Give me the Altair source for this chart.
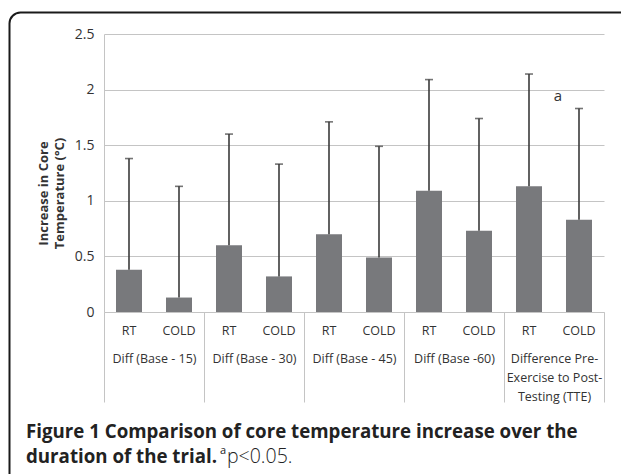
import altair as alt
import pandas as pd

# ---- data ----
groups = ["Diff (Base - 15)", "Diff (Base - 30)", "Diff (Base - 45)", "Diff (Base -60)",
          "Difference Pre-\nExercise to Post-\nTesting (TTE)"]
conditions = ["RT", "COLD"]
rt_means = [0.38, 0.60, 0.70, 1.09, 1.13]
cold_means = [0.13, 0.32, 0.49, 0.73, 0.83]
rt_err = [1.00, 1.00, 1.01, 1.00, 1.01]
cold_err = [1.00, 1.01, 1.00, 1.01, 1.00]
y_ticks = [0, 0.5, 1, 1.5, 2, 2.5]
y_title = ["Increase in Core", "Temperature (°C)"]
sig_groups = [groups[4]]
sig_labels = ["a"]
sig_y = [1.94]
caption_line1 = "Figure 1 Comparison of core temperature increase over the"
caption_line2 = "duration of the trial."
caption_sup = "a"
caption_note = "p<0.05."

# ---- styling ----
FONT = "Open Sans"
BAR = "#78797c"
GRID = "#c4c4c4"
ERR = "#3a3a3a"
TXT = "#333333"

rows = []
for i, g in enumerate(groups):
    for c, m, e in ((conditions[0], rt_means[i], rt_err[i]), (conditions[1], cold_means[i], cold_err[i])):
        rows.append({"key": f"{i}|{c}", "group": g, "cond": c, "mean": m, "upper": m + e})
df = pd.DataFrame(rows)
keys = list(df["key"])

yscale = alt.Scale(domain=[0, 2.5], nice=False)
key_axis = alt.Axis(title=None, labelExpr="split(datum.label, '|')[1]", labelAngle=0,
                    ticks=False, domainColor=GRID, domainWidth=1, labelPadding=12,
                    labelFont=FONT, labelFontSize=12.5, labelColor=TXT)
xkey = alt.X("key:N", sort=keys, scale=alt.Scale(paddingInner=0.48, paddingOuter=0.24),
             axis=key_axis)

bars = alt.Chart(df).mark_bar(color=BAR).encode(
    x=xkey,
    y=alt.Y("mean:Q", scale=yscale,
            axis=alt.Axis(values=y_ticks, format="~g", grid=True, gridColor=GRID, gridWidth=1,
                          domainColor=GRID, ticks=False, labelPadding=10, labelFont=FONT,
                          labelFontSize=14, labelColor=TXT, title=y_title, titleFont=FONT,
                          titleFontSize=13, titleFontWeight="bold", titleColor=TXT,
                          titleX=-61, titleY=159, titleBaseline="middle", titleLineHeight=16)),
)
rules = alt.Chart(df).mark_rule(color=ERR, strokeWidth=1.6).encode(
    x=xkey,
    y=alt.Y("mean:Q", scale=yscale),
    y2="upper:Q",
)
caps = alt.Chart(df).mark_tick(color=ERR, thickness=1.6, size=8).encode(
    x=xkey,
    y=alt.Y("upper:Q", scale=yscale),
)
bar_layer = alt.layer(bars, rules, caps)

sig_df = pd.DataFrame({"group": sig_groups, "label": sig_labels, "y": sig_y})
sig = alt.Chart(sig_df).mark_text(font=FONT, fontSize=15, color=TXT, dx=4).encode(
    x=alt.X("group:N", scale=alt.Scale(domain=groups, paddingInner=0, paddingOuter=0),
            axis=alt.Axis(title=None, orient="bottom", tickBand="extent", tickSize=90,
                          tickColor=GRID, tickWidth=1, domain=False, labelAngle=0,
                          labelPadding=-50, labelExpr="split(datum.label, '\\n')",
                          labelLineHeight=19, labelFont=FONT, labelFontSize=12.5,
                          labelColor=TXT)),
    y=alt.Y("y:Q", scale=yscale),
    text="label:N",
)

cap1 = alt.Chart(pd.DataFrame({"t": [caption_line1]})).mark_text(
    font=FONT, fontSize=18.7, fontWeight="bold", color="#222222",
    align="left", baseline="alphabetic").encode(
    x=alt.value(-78), y=alt.value(404), text="t:N")
cap2 = alt.Chart(pd.DataFrame({"t": [caption_line2]})).mark_text(
    font=FONT, fontSize=18.7, fontWeight="bold", color="#222222", align="left",
    baseline="alphabetic").encode(x=alt.value(-78), y=alt.value(429), text="t:N")
cap3 = alt.Chart(pd.DataFrame({"t": [caption_sup]})).mark_text(
    font=FONT, fontSize=11, color="#222222", align="left", baseline="alphabetic").encode(
    x=alt.value(116), y=alt.value(420), text="t:N")
cap4 = alt.Chart(pd.DataFrame({"t": [caption_note]})).mark_text(
    font=FONT, fontSize=19.5, fontWeight=300, color="#222222", align="left",
    baseline="alphabetic").encode(x=alt.value(123), y=alt.value(429), text="t:N")

frame = alt.Chart(pd.DataFrame({"f": [0]})).mark_rect(
    fill="transparent", stroke="#1a1a1a", strokeWidth=2, cornerRadius=11).encode(
    x=alt.value(-94.5), x2=alt.value(532), y=alt.value(-21.5), y2=alt.value(470))

chart = alt.layer(bar_layer, sig, cap1, cap2, cap3, cap4, frame).resolve_scale(
    x="independent"
).properties(
    width=500, height=278,
    autosize=alt.AutoSizeParams(type="none"),
    padding={"left": 96, "top": 26, "right": 17, "bottom": 162},
    background="white",
).configure_view(strokeWidth=0)

chart.save("out.html", embed_options={"renderer": "svg", "actions": False})
